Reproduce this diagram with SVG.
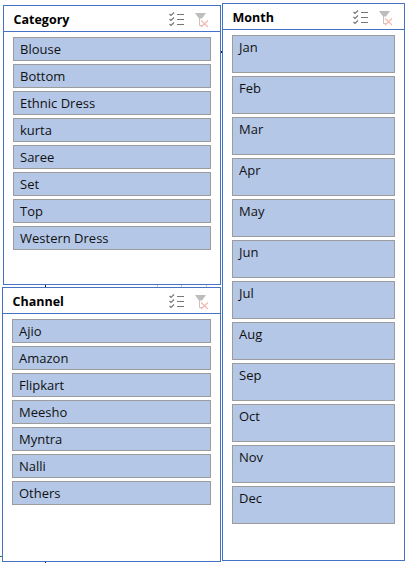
<svg xmlns="http://www.w3.org/2000/svg" width="411" height="563" viewBox="0 0 411 563">
<style>
.panel{fill:#fff;stroke:#4472c4;stroke-width:1}
.head{stroke:#4472c4;stroke-width:1;fill:none}
.item{fill:#b4c7e7;stroke:#9c9c9c;stroke-width:1}
.t{font-family:"Open Sans","Noto Sans","Liberation Sans",sans-serif;font-size:13px;fill:#111}
.h{font-family:"Open Sans","Noto Sans","Liberation Sans",sans-serif;font-size:12.5px;font-weight:700;fill:#000}
.lines{stroke:#777;stroke-width:1;fill:none}
.tick{stroke:#777;stroke-width:1.2;fill:none}
.fun{fill:#bdbdbd}
.x{stroke:#f4b8ae;stroke-width:1.2;fill:none}
.stem{stroke:#c4c4c4;stroke-width:1;fill:none}
</style>
<defs>
<g id="multi">
<path class="tick" d="M0 2l1.500 1.500 3-3M0 7l1.500 1.500 3-3M0 12l1.500 1.500 3-3"/>
<path class="lines" d="M7.500 2.500h7M7.500 7.500h7M7.500 12.500h7"/>
</g>
<g id="clear">
<path class="fun" d="M0 0h11l-4 5.500h-3z"/>
<path class="stem" d="M4.500 5v7.500h3"/>
<path class="x" d="M6 7.500l7 6.500M13 7.500l-7 6.500"/>
</g>
</defs>
<rect width="411" height="563" fill="#fff"/>
<g id="gridlines" stroke-width="1" fill="none">
<path stroke="#222" d="M221.500 51v2M45.500 285v2M45.500 561v2"/>
<path stroke="#b4c7e7" d="M157.500 285v2M181.500 285v2M206.500 285v2"/>
<path stroke="#2e7d4f" d="M0 556.500h2"/>
</g>
<g id="category">
<rect class="panel" x="3.500" y="5.500" width="217" height="279"/>
<path class="head" d="M3.500 31.500h217"/>
<text class="h" x="13.500" y="24">Category</text>
<use href="#multi" x="169.500" y="12"/>
<use href="#clear" x="195" y="13"/>
<rect class="item" x="13.500" y="37.500" width="197" height="23"/><text class="t" x="20" y="54">Blouse</text>
<rect class="item" x="13.500" y="64.500" width="197" height="23"/><text class="t" x="20" y="81">Bottom</text>
<rect class="item" x="13.500" y="91.500" width="197" height="23"/><text class="t" x="20" y="108">Ethnic Dress</text>
<rect class="item" x="13.500" y="118.500" width="197" height="23"/><text class="t" x="20" y="135">kurta</text>
<rect class="item" x="13.500" y="145.500" width="197" height="23"/><text class="t" x="20" y="162">Saree</text>
<rect class="item" x="13.500" y="172.500" width="197" height="23"/><text class="t" x="20" y="189">Set</text>
<rect class="item" x="13.500" y="199.500" width="197" height="23"/><text class="t" x="20" y="216">Top</text>
<rect class="item" x="13.500" y="226.500" width="197" height="23"/><text class="t" x="20" y="243">Western Dress</text>
</g>
<g id="channel">
<rect class="panel" x="2.500" y="287.500" width="218" height="274"/>
<path class="head" d="M2.500 313.500h218"/>
<text class="h" x="12.500" y="306">Channel</text>
<use href="#multi" x="169.500" y="294"/>
<use href="#clear" x="195" y="295"/>
<rect class="item" x="12.500" y="319.500" width="198" height="23"/><text class="t" x="19" y="336">Ajio</text>
<rect class="item" x="12.500" y="346.500" width="198" height="23"/><text class="t" x="19" y="363">Amazon</text>
<rect class="item" x="12.500" y="373.500" width="198" height="23"/><text class="t" x="19" y="390">Flipkart</text>
<rect class="item" x="12.500" y="400.500" width="198" height="23"/><text class="t" x="19" y="417">Meesho</text>
<rect class="item" x="12.500" y="427.500" width="198" height="23"/><text class="t" x="19" y="444">Myntra</text>
<rect class="item" x="12.500" y="454.500" width="198" height="23"/><text class="t" x="19" y="471">Nalli</text>
<rect class="item" x="12.500" y="481.500" width="198" height="23"/><text class="t" x="19" y="498">Others</text>
</g>
<g id="month">
<rect class="panel" x="222.500" y="3.500" width="182" height="557"/>
<path class="head" d="M222.500 29.500h182"/>
<text class="h" x="232.500" y="22">Month</text>
<use href="#multi" x="353.500" y="10"/>
<use href="#clear" x="379" y="11"/>
<rect class="item" x="232.500" y="35.500" width="162" height="37"/><text class="t" x="239" y="52">Jan</text>
<rect class="item" x="232.500" y="76.500" width="162" height="37"/><text class="t" x="239" y="93">Feb</text>
<rect class="item" x="232.500" y="117.500" width="162" height="37"/><text class="t" x="239" y="134">Mar</text>
<rect class="item" x="232.500" y="158.500" width="162" height="37"/><text class="t" x="239" y="175">Apr</text>
<rect class="item" x="232.500" y="199.500" width="162" height="37"/><text class="t" x="239" y="216">May</text>
<rect class="item" x="232.500" y="240.500" width="162" height="37"/><text class="t" x="239" y="257">Jun</text>
<rect class="item" x="232.500" y="281.500" width="162" height="37"/><text class="t" x="239" y="298">Jul</text>
<rect class="item" x="232.500" y="322.500" width="162" height="37"/><text class="t" x="239" y="339">Aug</text>
<rect class="item" x="232.500" y="363.500" width="162" height="37"/><text class="t" x="239" y="380">Sep</text>
<rect class="item" x="232.500" y="404.500" width="162" height="37"/><text class="t" x="239" y="421">Oct</text>
<rect class="item" x="232.500" y="445.500" width="162" height="37"/><text class="t" x="239" y="462">Nov</text>
<rect class="item" x="232.500" y="486.500" width="162" height="37"/><text class="t" x="239" y="503">Dec</text>
</g>
</svg>
